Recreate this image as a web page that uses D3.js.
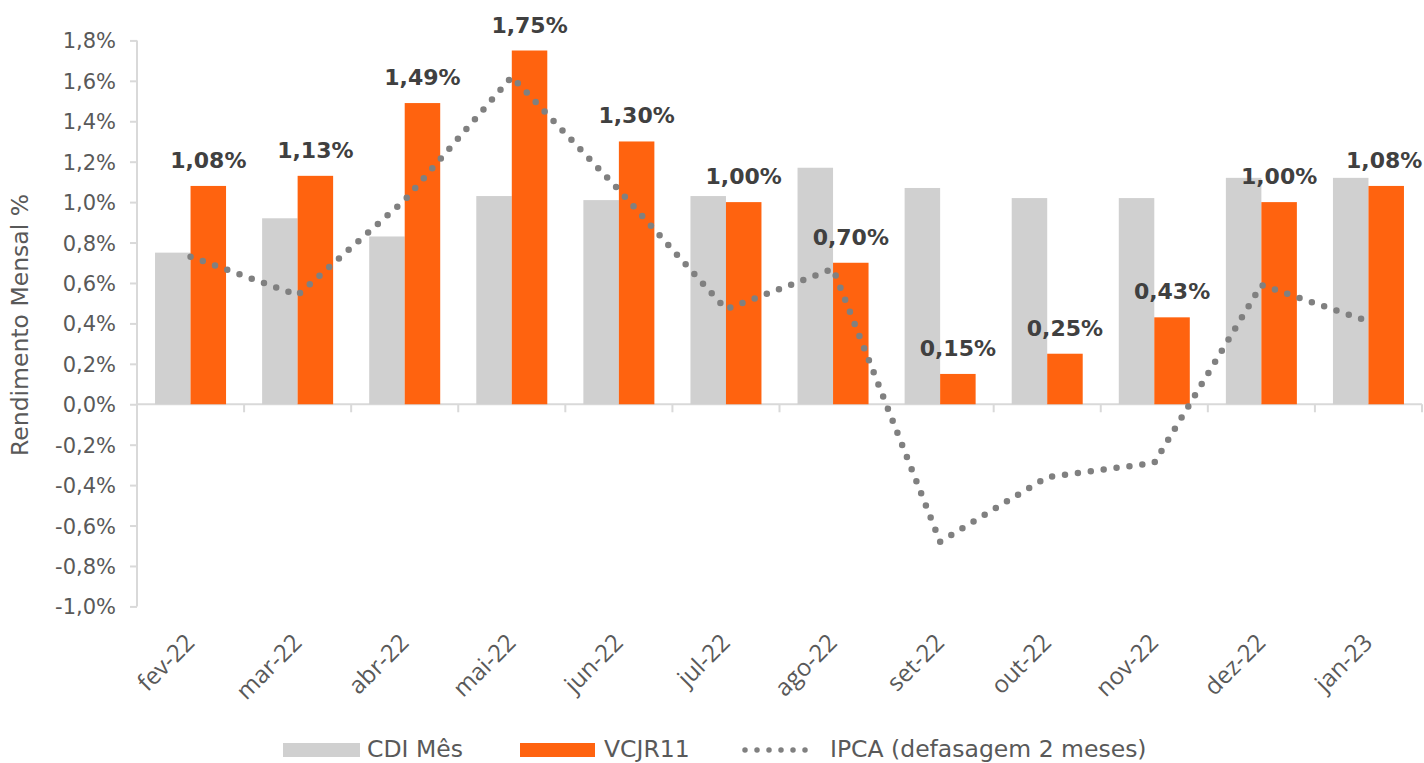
<!DOCTYPE html>
<html><head><meta charset="utf-8">
<script src="https://cdn.jsdelivr.net/npm/d3@7"></script>
<style>body{margin:0;background:#fff;} svg{display:block;}</style>
</head><body>
<svg id="c" width="1424" height="763"></svg>
<script>
const categories = ["fev-22","mar-22","abr-22","mai-22","jun-22","jul-22","ago-22","set-22","out-22","nov-22","dez-22","jan-23"];
const cdi = [0.75,0.92,0.83,1.03,1.01,1.03,1.17,1.07,1.02,1.02,1.12,1.12];
const vcjr = [1.08,1.13,1.49,1.75,1.30,1.00,0.70,0.15,0.25,0.43,1.00,1.08];
const ipca = [0.73,0.54,1.01,1.62,1.06,0.47,0.67,-0.68,-0.36,-0.29,0.59,0.41];
const yTicks = [-1.0,-0.8,-0.6,-0.4,-0.2,0,0.2,0.4,0.6,0.8,1.0,1.2,1.4,1.6,1.8];
const seriesNames = ["CDI Mês","VCJR11","IPCA (defasagem 2 meses)"];

const svg = d3.select("#c");
const L = 137, R = 1422, T = 40.4, B = 606.4;
const font = "DejaVu Sans, Verdana, sans-serif";
const y = d3.scaleLinear().domain([-1.0,1.8]).range([B,T]);
const x = d3.scaleBand().domain(categories).range([L,R]);
const fmt = v => d3.format(".1f")(v).replace(".",",").replace("\u2212","-") + "%";
const fmt2 = v => d3.format(".2f")(v).replace(".",",").replace("\u2212","-") + "%";

// y axis
const ya = svg.append("g").attr("transform",`translate(${L},0)`)
  .call(d3.axisLeft(y).tickValues(yTicks).tickFormat(fmt).tickSize(7).tickPadding(14));
ya.select(".domain").attr("stroke","#d9d9d9").attr("stroke-width",2).attr("d",`M0,${T}V${B}`);
ya.selectAll(".tick line").attr("stroke","#d9d9d9").attr("stroke-width",2);
ya.selectAll(".tick text").attr("fill","#595959").attr("dy","0.36em").style("font-family",font).style("font-size","21px");

// x axis at 0
const y0 = y(0);
const xa = svg.append("g").attr("transform",`translate(0,${y0})`);
xa.append("line").attr("x1",L).attr("x2",R).attr("y1",0).attr("y2",0).attr("stroke","#d9d9d9").attr("stroke-width",2);
const bounds = categories.map(c => x(c) + x.bandwidth());
xa.selectAll("line.tk").data(bounds).join("line").attr("class","tk")
  .attr("x1",d=>d).attr("x2",d=>d).attr("y1",0).attr("y2",8).attr("stroke","#d9d9d9").attr("stroke-width",2);

// bars
const bw = 35.5;
const g = svg.append("g");
g.selectAll("rect.cdi").data(categories).join("rect").attr("class","cdi")
  .attr("x",c=>x(c)+x.bandwidth()/2-bw).attr("width",bw)
  .attr("y",(c,i)=>y(cdi[i])).attr("height",(c,i)=>y0-y(cdi[i])).attr("fill","#d0d0d0");
g.selectAll("rect.vc").data(categories).join("rect").attr("class","vc")
  .attr("x",c=>x(c)+x.bandwidth()/2).attr("width",bw)
  .attr("y",(c,i)=>y(vcjr[i])).attr("height",(c,i)=>y0-y(vcjr[i])).attr("fill","#ff630f");

// ipca dotted line
const line = d3.line().x((d,i)=>x(categories[i])+x.bandwidth()/2).y(d=>y(d));
svg.append("path").datum(ipca).attr("d",line).attr("fill","none")
  .attr("stroke","#808080").attr("stroke-width",6.5).attr("stroke-linecap","round")
  .attr("stroke-dasharray","0 13");

// data labels
svg.selectAll("text.dl").data(categories).join("text").attr("class","dl")
  .attr("x",(c,i)=> x(c)+x.bandwidth()/2+bw/2 - (i===categories.length-1 ? 2 : 0))
  .attr("y",(c,i)=>y(vcjr[i]) - 18)
  .attr("text-anchor","middle").attr("fill","#404040")
  .style("font-family",font).style("font-size","22px").style("font-weight","bold")
  .text((c,i)=>fmt2(vcjr[i]));

// category labels
svg.selectAll("text.cat").data(categories).join("text").attr("class","cat")
  .attr("transform",c=>`translate(${x(c)+x.bandwidth()/2+5.5},${644}) rotate(-45)`)
  .attr("text-anchor","end").attr("fill","#595959")
  .style("font-family","Open Sans, sans-serif").style("font-size","24px").text(c=>c);

// y title
svg.append("text").attr("transform",`translate(28,325) rotate(-90)`)
  .attr("text-anchor","middle").attr("fill","#595959")
  .style("font-family",font).style("font-size","23.5px").text("Rendimento Mensal %");

// legend
const lg = svg.append("g").style("font-family",font).style("font-size","23.5px");
lg.append("rect").attr("x",283).attr("y",743).attr("width",77).attr("height",14).attr("fill","#d0d0d0");
lg.append("text").attr("x",367).attr("y",757).attr("fill","#595959").text(seriesNames[0]);
lg.append("rect").attr("x",520).attr("y",743).attr("width",75).attr("height",14).attr("fill","#ff630f");
lg.append("text").attr("x",604).attr("y",757).attr("fill","#595959").text(seriesNames[1]);
lg.append("line").attr("x1",745).attr("x2",817).attr("y1",750).attr("y2",750)
  .attr("stroke","#808080").attr("stroke-width",5.5).attr("stroke-linecap","round").attr("stroke-dasharray","0 12");
lg.append("text").attr("x",830).attr("y",757).attr("fill","#595959").text(seriesNames[2]);
</script>
</body></html>
